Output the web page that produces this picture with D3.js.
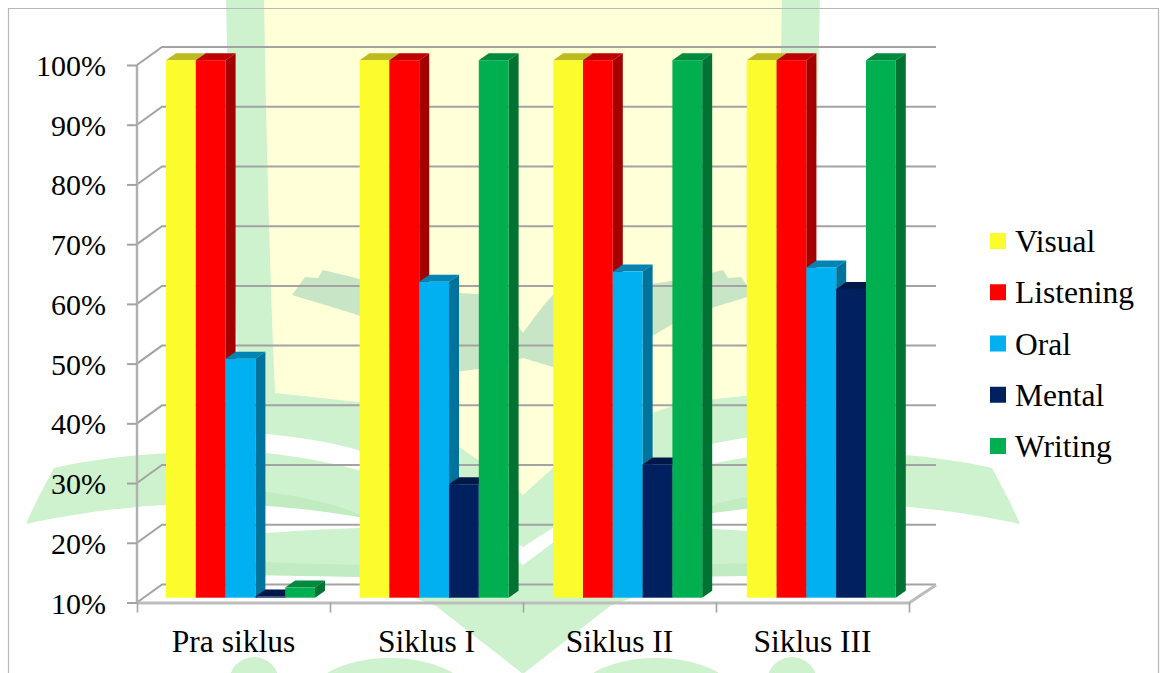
<!DOCTYPE html>
<html>
<head>
<meta charset="utf-8">
<title>Aktivitas siswa per siklus</title>
<script src="https://cdn.jsdelivr.net/npm/d3@7/dist/d3.min.js"></script>
<style>
html,body{margin:0;padding:0;background:#fff;overflow:hidden}
svg{display:block}
text{font-family:"Liberation Serif","Times New Roman",serif;fill:#000}
.domain{display:none}
</style>
</head>
<body>
<svg id="chart" width="1160" height="673"></svg>
<script>
// Chart data
const categories = ["Pra siklus", "Siklus I", "Siklus II", "Siklus III"];
const seriesNames = ["Visual", "Listening", "Oral", "Mental", "Writing"];
const visual = [100, 100, 100, 100];
const listening = [100, 100, 100, 100];
const oral = [50, 62.9, 64.6, 65.3];
const mental = [10.2, 29, 32.3, 61.7];
const writing = [11.7, 100, 100, 100];
const seriesValues = [visual, listening, oral, mental, writing];
const yTicks = [10, 20, 30, 40, 50, 60, 70, 80, 90, 100];

// Face colours of each series: front, top, side
const frontColors = ["#fcfb2c", "#ff0000", "#00b0f0", "#002060", "#00b050"];
const topColors = ["#bdbb20", "#bf0000", "#0084b4", "#001848", "#008a3d"];
const sideColors = ["#a5a418", "#a50000", "#00739c", "#00153e", "#007333"];

const svg = d3.select("#chart");
const labelFont = 30, textFont = 31.5;
const serif = '"Liberation Serif","Times New Roman",serif';
const plot = { left: 137, right: 909, top: 65, bottom: 602.5 };
const wall = { dx: 25, dy: -18 };           // offset from front axis to back wall
const bar = { lift: -4.8, dx: 10, dy: -7 }; // bar placement and depth

const y = d3.scaleLinear().domain([10, 100]).range([plot.bottom, plot.top]);
const xBand = d3.scaleBand().domain(categories).range([plot.left, plot.right]);
const xEdges = d3.scaleLinear().domain([0, categories.length]).range([plot.left, plot.right]);
const xGroups = d3.scaleBand().domain(categories).range([166, 166 + 4 * 193.6]);
const xSeries = d3.scaleBand().domain(seriesNames).range([0, 149]);

// Background crest, drawn as the left half and reflected about its centre line
const crest = svg.append("g").attr("id", "crest");
const crestCentre = 523;
const GREEN = "#cdf2cd", BAND = "#c1ebc1", LEAF = "#c8e6c6", CREAM = "#ffffd8", WHITE = "#ffffff";
const crestShapes = [
  { d: "M226,-5 C229,150 234,300 240,400 L262,580 L360,578 L436,606 L523,674 L523,-5 Z", fill: GREEN },
  { d: "M264,-5 C266,130 270,280 275,393 L358,402 C400,412 440,432 478,460 L493,468 L523,495 L523,-5 Z", fill: CREAM },
  { d: "M292,295 L305,277 L318,278 L323,270 L360,279 L459,293 L493,295 C503,305 512,318 523,333 L523,358 L493,367 L455,372 L358,315 Z", fill: LEAF },
  { d: "M240,433 L266,434 C300,437 335,443 358,450 L420,480 L358,470 C330,462 300,457 266,453 L240,452 Z", fill: WHITE },
  { d: "M26,524 C34,505 45,485 54,468 C110,455 190,450 250,452 L250,505 C170,500 90,510 26,524 Z", fill: GREEN },
  { d: "M250,490 C300,495 340,505 360,515 L360,524 C330,515 290,507 250,505 Z", fill: BAND },
  { d: "M240,505 L266,506 C300,508 335,513 358,517 L420,525 L358,528 C325,529 295,531 266,533 L240,533 Z", fill: WHITE },
  { d: "M250,562 L360,565 L360,577 L250,575 Z", fill: BAND },
  { d: "M240,575 L360,577 L366,598 L240,598 Z", fill: WHITE },
  { d: "M523,547 L492,527 L492,542 L523,565 Z", fill: WHITE }
];
[1, -1].forEach(side => {
  const half = crest.append("g")
    .attr("transform", side === 1 ? null : `translate(${2 * crestCentre},0) scale(-1,1)`);
  half.selectAll("path").data(crestShapes).join("path")
    .attr("d", s => s.d).attr("fill", s => s.fill);
  half.append("circle").attr("cx", 254).attr("cy", 682).attr("r", 25).attr("fill", GREEN);
  half.append("ellipse").attr("cx", 390).attr("cy", 700).attr("rx", 82).attr("ry", 42).attr("fill", GREEN);
});

// Page frame
svg.append("path").attr("d", "M8.5,673 V8.5 H1158.5 V673")
  .attr("fill", "none").attr("stroke", "#b8b8b8").attr("stroke-width", 1.2);

// Walls and gridlines of the 3D box
const gridColor = "#a3a3a3";
const grid = svg.append("g").attr("fill", "none").attr("stroke", gridColor).attr("stroke-width", 2);
grid.selectAll("path.back").data(yTicks).join("path").attr("class", "back")
  .attr("d", v => `M${plot.left},${y(v)} l${wall.dx},${wall.dy} H${plot.right + wall.dx + 2}`);
grid.append("path")
  .attr("d", `M${plot.left},${plot.top} V${plot.bottom}`).attr("stroke", "#b0b0b0").attr("stroke-width", 2.4);
// Floor edges
grid.append("path")
  .attr("d", `M${plot.left},${plot.bottom + 0.5} H${plot.right} l${wall.dx + 2},${wall.dy}`)
  .attr("stroke", "#bdbdbd").attr("stroke-width", 3);

// Value axis
const yAxis = d3.axisLeft(y).tickValues(yTicks).tickFormat(d => d + "%").tickSize(10).tickPadding(21);
const yG = svg.append("g").attr("transform", `translate(${plot.left},0)`).call(yAxis);
yG.selectAll("line").attr("stroke", gridColor).attr("stroke-width", 2);
yG.selectAll("text").attr("font-size", labelFont).attr("dy", 10.5)
  .style("font-family", serif).attr("fill", "#000");

// Category ticks sit on group boundaries, labels in the group centres
const edgeAxis = d3.axisBottom(xEdges).ticks(categories.length).tickFormat("").tickSize(10);
const edgeG = svg.append("g").attr("transform", `translate(0,${plot.bottom})`).call(edgeAxis);
edgeG.selectAll("line").attr("stroke", gridColor).attr("stroke-width", 1.6);

const catAxis = d3.axisBottom(xBand).tickSize(0).tickPadding(0);
const catG = svg.append("g").attr("transform", `translate(0,${plot.bottom})`).call(catAxis);
catG.selectAll("text").attr("font-size", textFont).attr("dy", 0).attr("y", 49)
  .style("font-family", serif).attr("fill", "#000");

// Bars: each one is a front rectangle plus a top and a side face; later series overlap earlier sides
const barW = xSeries.bandwidth();
const base = y(10) + bar.lift;
categories.forEach((cat, ci) => {
  const g = svg.append("g").attr("class", "group");
  seriesNames.forEach((name, si) => {
    const v = seriesValues[si][ci];
    const x0 = xGroups(cat) + xSeries(name);
    const yTop = y(v) + bar.lift;
    g.append("path").attr("fill", topColors[si])
      .attr("d", `M${x0},${yTop} l${bar.dx},${bar.dy} h${barW} l${-bar.dx},${-bar.dy} Z`);
    g.append("path").attr("fill", sideColors[si])
      .attr("d", `M${x0 + barW},${yTop} l${bar.dx},${bar.dy} V${base + bar.dy} l${-bar.dx},${-bar.dy} Z`);
    g.append("rect").attr("x", x0).attr("y", yTop).attr("width", barW)
      .attr("height", base - yTop).attr("fill", frontColors[si]);
  });
});

// Legend
const legendY = d3.scalePoint().domain(seriesNames).range([241, 446]);
const legend = svg.append("g").selectAll("g").data(seriesNames).join("g")
  .attr("transform", d => `translate(990,${legendY(d)})`);
legend.append("rect").attr("y", -8).attr("width", 16).attr("height", 16)
  .attr("fill", (d, i) => frontColors[i]);
legend.append("text").attr("x", 25).attr("y", 11).attr("font-size", textFont).text(d => d);
</script>
</body>
</html>
